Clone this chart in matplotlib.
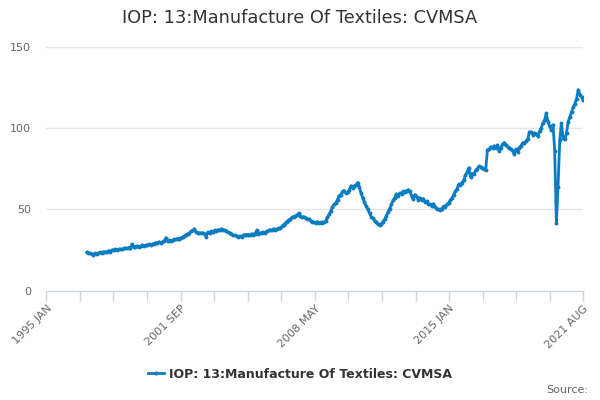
import numpy as np
import pandas as pd
import matplotlib
matplotlib.use("Agg")
import matplotlib.pyplot as plt
import matplotlib.dates as mdates
from matplotlib.lines import Line2D

# monthly values, 1997 JAN .. 2021 AUG
v1997 = [23.5, 23, 23, 22.5, 22, 23, 22.5, 23, 23.5, 23, 24, 23.5]
v1998 = [24, 24.5, 24, 25, 25, 25.5, 25, 25.5, 25.5, 25.5, 26, 26]
v1999 = [26, 26.5, 26, 28.5, 27, 27, 27.5, 27, 27.5, 28, 27.5, 28]
v2000 = [28, 28.5, 28, 28.5, 29, 29.5, 29.5, 30, 29.5, 30, 30.5, 32.5]
v2001 = [30.5, 31, 30.5, 31, 31.5, 31.5, 32, 32, 32.5, 33, 33.5, 34.5]
v2002 = [35, 35.5, 36.5, 37, 38, 36, 35.5, 35.5, 35.5, 35.5, 35, 33]
v2003 = [36, 35.5, 36.5, 36, 37, 36.5, 37.5, 37, 38, 37.5, 37, 36.5]
v2004 = [36, 35.5, 35, 34, 34, 33.5, 33, 33.5, 33, 34, 34.5, 34.5]
v2005 = [34.5, 34, 35, 34.5, 35, 37, 35, 35.5, 35.5, 36, 35.5, 36.5]
v2006 = [37, 37.5, 37, 38, 37.5, 38, 38.5, 38.5, 39.5, 40.5, 41.5, 42.5]
v2007 = [43.5, 44, 45, 45.5, 46, 46.5, 47.5, 46, 45, 45.5, 44.5, 44]
v2008 = [44, 43, 42.5, 42, 41.5, 42.5, 41.5, 42, 41.5, 42, 43, 45]
v2009 = [47, 49, 51.5, 53, 54, 56, 58.5, 59, 61, 61.5, 60, 60.5]
v2010 = [62, 64.5, 63, 64.5, 65, 66.5, 63.5, 60, 57, 54.5, 52, 50]
v2011 = [47.5, 45.5, 44.5, 43, 42, 41, 40.5, 41, 42.5, 44, 46, 48.5]
v2012 = [50.5, 53, 55.5, 57, 59.5, 58, 60, 59.5, 61, 60.5, 61.5, 62]
v2013 = [61, 58, 56.5, 59, 57.5, 56, 57, 55.5, 56.5, 54.5, 55, 53.5]
v2014 = [53, 52, 53.5, 51.5, 50.5, 50, 49.5, 50.5, 52, 51.5, 53, 54]
v2015 = [55.5, 57, 59, 61, 62.5, 65.5, 65, 66.5, 68, 71, 73, 75.5]
v2016 = [70, 72, 71.5, 74, 75, 76.5, 76, 75.5, 75, 74, 86.5, 87]
v2017 = [88.5, 87.5, 89, 88, 89.5, 86, 88, 90, 91, 89.5, 88.5, 88]
v2018 = [87, 86, 84, 87, 85.5, 88, 89, 91, 90.5, 92, 93.5, 97.5]
v2019 = [97.5, 96, 97, 96.5, 95, 98, 100, 103, 105, 109, 104, 101]
v2020 = [99, 102, 86, 41.5, 64, 92.5, 103, 94, 93, 97, 104, 107]
v2021 = [110, 113, 115, 118, 123.5, 120.5, 119, 117]

values = (v1997 + v1998 + v1999 + v2000 + v2001 + v2002 + v2003 + v2004 + v2005
          + v2006 + v2007 + v2008 + v2009 + v2010 + v2011 + v2012 + v2013 + v2014
          + v2015 + v2016 + v2017 + v2018 + v2019 + v2020 + v2021)
dates = pd.date_range("1997-01-01", periods=len(values), freq="MS")

series_name = "IOP: 13:Manufacture Of Textiles: CVMSA"
tick_labels = ["1995 JAN", "2001 SEP", "2008 MAY", "2015 JAN", "2021 AUG"]
y_ticks = [0, 50, 100, 150]

line_color = "#0a7cc1"

fig = plt.figure(figsize=(6, 4), dpi=100)
ax = fig.add_axes([0.0772, 0.2733, 0.895, 0.61])

ax.plot(dates, values, color=line_color, lw=2, marker="o", ms=2.8,
        markeredgewidth=0)

x0 = mdates.date2num(pd.Timestamp("1995-01-01"))
x1 = mdates.date2num(pd.Timestamp("2021-08-01"))
ax.set_xlim(x0, x1)
ax.set_ylim(0, 150)

ticks = np.linspace(x0, x1, 17)
ax.set_xticks(ticks)
labels = [""] * 17
for i, lab in enumerate(tick_labels):
    labels[i * 4] = lab
ax.set_xticklabels(labels, rotation=45, ha="right", va="top",
                   rotation_mode="anchor", color="#666666", fontsize=8)
ax.tick_params(axis="x", length=7, color="#ccd6eb", width=1, pad=2)

ax.set_yticks(y_ticks)
ax.set_yticklabels([str(t) for t in y_ticks], color="#666666", fontsize=8)
ax.tick_params(axis="y", length=0, pad=11)
ax.grid(axis="y", color="#e6e6e6", lw=1)
ax.set_axisbelow(True)

for s in ["top", "right", "left"]:
    ax.spines[s].set_visible(False)
ax.spines["bottom"].set_color("#ccd6eb")

fig.text(0.5, 1 - 18 / 400, series_name, ha="center", va="center",
         fontsize=12.8, color="#333333")

handle = Line2D([], [], color=line_color, lw=2, marker="o", ms=3,
                markeredgewidth=0)
fig.legend([handle], [series_name], loc="center", bbox_to_anchor=(0.5, 0.065),
           frameon=False, handlelength=1.3, handletextpad=0.4,
           prop={"weight": "bold", "size": 9}, labelcolor="#333333")

fig.text(0.98, 1 - 390 / 400, "Source:", ha="right", va="center",
         fontsize=8, color="#666666")

fig.savefig("out.png", dpi=100)
